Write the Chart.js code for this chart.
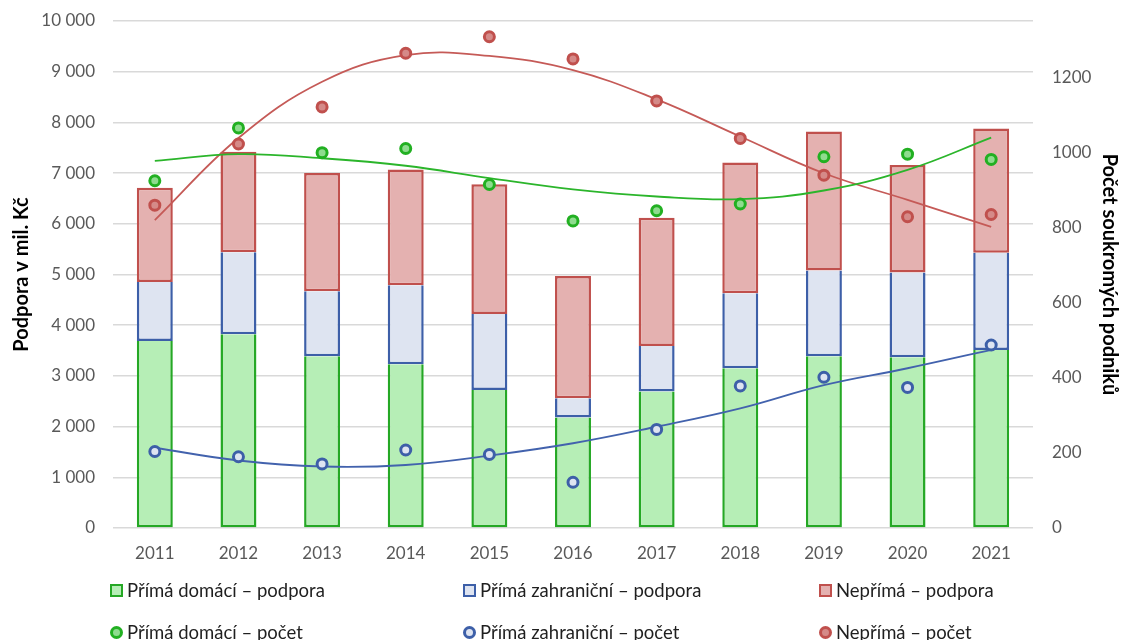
<!DOCTYPE html>
<html>
<head>
<meta charset="utf-8">
<script src="https://cdn.jsdelivr.net/npm/chart.js@4"></script>
<style>
  html, body { margin: 0; padding: 0; background: #fff; }
  #wrap { position: relative; width: 1123px; height: 640px; overflow: hidden; }
  #c { position: absolute; left: 0; top: 0; }
  .lg { position: absolute; font-family: Lato, "Open Sans", sans-serif; font-size: 18.5px; color: #1f1f1f; white-space: nowrap; display: flex; align-items: center; height: 24px; }
  .mk { display: inline-block; box-sizing: border-box; width: 13px; height: 13px; margin-right: 4px; }
</style>
</head>
<body>
<div id="wrap">
  <canvas id="c" width="1123" height="640"></canvas>
</div>
<script>
const years = ['2011','2012','2013','2014','2015','2016','2017','2018','2019','2020','2021'];

// Podpora (mil. Kč) – stacked bars, left axis
const primaDomaciPodpora     = [3690, 3820, 3390, 3230, 2720, 2180, 2690, 3150, 3390, 3370, 3510];
const primaZahranicniPodpora = [1160, 1620, 1280, 1560, 1500,  380,  900, 1480, 1690, 1670, 1920];
const neprimaPodpora         = [1860, 1980, 2330, 2280, 2560, 2410, 2530, 2580, 2740, 2120, 2450];

// Počet soukromých podniků – points, right axis
const primaDomaciPocet       = [926, 1067, 1001, 1012, 916, 819, 846, 864, 990, 997, 983];
const primaZahranicniPocet   = [204,  190,  171,  208, 196, 122, 263, 379, 402, 375, 488];
const neprimaPocet           = [861, 1024, 1123, 1266, 1310, 1251, 1139, 1039, 941, 830, 836];

// Trend lines
const trendDomaci            = [979, 997, 986, 966, 933, 903, 884, 877, 900, 955, 1041];
const trendZahranicni        = [214, 180, 164, 168, 193, 226, 270, 319, 381, 426, 475];
const trendNeprima           = [821, 1040, 1190, 1261, 1259, 1221, 1143, 1044, 946, 875, 803];

const leftTicks = { min: 0, max: 10000, step: 1000 };
const rightTicks = { min: 0, max: 1352, step: 200 };

const legendItems = [
  { label: 'Přímá domácí – podpora', kind: 'box', border: '#25a825', fill: '#b6eeb6', col: 0, row: 0 },
  { label: 'Přímá zahraniční – podpora', kind: 'box', border: '#3d5fa8', fill: '#dee4f1', col: 1, row: 0 },
  { label: 'Nepřímá – podpora', kind: 'box', border: '#c0504d', fill: '#e4b1b0', col: 2, row: 0 },
  { label: 'Přímá domácí – počet', kind: 'dot', border: '#22b022', fill: '#8fdc8f', col: 0, row: 1 },
  { label: 'Přímá zahraniční – počet', kind: 'dot', border: '#3d5fa8', fill: '#dee4f1', col: 1, row: 1 },
  { label: 'Nepřímá – počet', kind: 'dot', border: '#c0504d', fill: '#d58a88', col: 2, row: 1 }
];

const fmt = v => String(v).replace(/\B(?=(\d{3})+(?!\d))/g, '\u00a0');
const FONT = 'Lato, "Open Sans", sans-serif';

function bar(label, data, border, fill, skip, order) {
  return { type: 'bar', label, data, backgroundColor: fill, borderColor: border, borderWidth: 2.5,
    borderSkipped: skip, yAxisID: 'y', stack: 's', categoryPercentage: 1, barPercentage: 0.43, order };
}
function pts(label, data, border, fill) {
  return { type: 'line', label, data, showLine: false, yAxisID: 'y1', pointRadius: 5, pointBorderWidth: 3,
    pointBackgroundColor: fill, pointBorderColor: border, borderColor: border, backgroundColor: fill, order: 0 };
}
function trend(label, data, color) {
  return { type: 'line', label, data, yAxisID: 'y1', pointRadius: 0, borderWidth: 1.8, borderColor: color,
    fill: false, tension: 0.4, order: 1 };
}

const ds = [
  bar('Přímá domácí – podpora', primaDomaciPodpora, '#25a825', '#b6eeb6', 'end', 2),
  bar('Přímá zahraniční – podpora', primaZahranicniPodpora, '#3d5fa8', '#dee4f1', 'end', 3),
  bar('Nepřímá – podpora', neprimaPodpora, '#c0504d', '#e4b1b0', false, 4),
  pts('Přímá domácí – počet', primaDomaciPocet, '#22b022', '#8fdc8f'),
  pts('Přímá zahraniční – počet', primaZahranicniPocet, '#3d5fa8', '#dee4f1'),
  pts('Nepřímá – počet', neprimaPocet, '#c0504d', '#d58a88'),
  trend('Trend domácí', trendDomaci, '#2bb52b'),
  trend('Trend zahraniční', trendZahranicni, '#4262ad'),
  trend('Trend nepřímá', trendNeprima, '#c55a57')
];

new Chart(document.getElementById('c'), {
  data: { labels: years, datasets: ds },
  options: {
    responsive: false,
    animation: false,
    layout: { autoPadding: false, padding: { top: 21, left: 0, right: 0, bottom: 0 } },
    plugins: { legend: { display: false }, tooltip: { enabled: false } },
    scales: {
      x: {
        stacked: true,
        grid: { display: false, drawTicks: false },
        border: { display: false },
        ticks: { color: '#595959', font: { family: FONT, size: 17 }, padding: 15 },
        afterFit: s => { s.height = 112; }
      },
      y: {
        position: 'left', stacked: true,
        min: leftTicks.min, max: leftTicks.max,
        ticks: { stepSize: leftTicks.step, color: '#595959', font: { family: FONT, size: 17 }, padding: 18,
          callback: v => fmt(v) },
        grid: { color: '#d9d9d9', lineWidth: 1.5, drawTicks: false },
        border: { display: false },
        title: { display: true, text: 'Podpora v mil. Kč', color: '#000', font: { family: FONT, size: 20, weight: 'bold' }, padding: { top: 10, bottom: 0 } },
        afterFit: s => { s.width = 113; s.paddingTop = 0; s.paddingBottom = 0; }
      },
      y1: {
        position: 'right', stacked: false,
        min: rightTicks.min, max: rightTicks.max,
        ticks: { stepSize: rightTicks.step, includeBounds: false, color: '#595959', font: { family: FONT, size: 17 }, padding: 19,
          callback: v => String(v) },
        grid: { display: false, drawTicks: false },
        border: { display: false },
        title: { display: true, text: 'Počet soukromých podniků', color: '#000', font: { family: FONT, size: 20, weight: 'bold' }, padding: { top: 2, bottom: 0 } },
        afterFit: s => { s.width = 90; s.paddingTop = 0; s.paddingBottom = 0; }
      }
    }
  }
});

// HTML legend in two rows × three columns
const colX = [110, 463, 819];
const rowY = [590, 632];
const wrap = document.getElementById('wrap');
legendItems.forEach(it => {
  const d = document.createElement('div');
  d.className = 'lg';
  d.style.left = colX[it.col] + 'px';
  d.style.top = (rowY[it.row] - 12) + 'px';
  const m = document.createElement('span');
  m.className = 'mk';
  m.style.background = it.fill;
  m.style.border = (it.kind === 'box' ? '2.5px' : '3px') + ' solid ' + it.border;
  if (it.kind === 'dot') m.style.borderRadius = '50%';
  d.appendChild(m);
  d.appendChild(document.createTextNode(it.label));
  wrap.appendChild(d);
});
</script>
</body>
</html>
